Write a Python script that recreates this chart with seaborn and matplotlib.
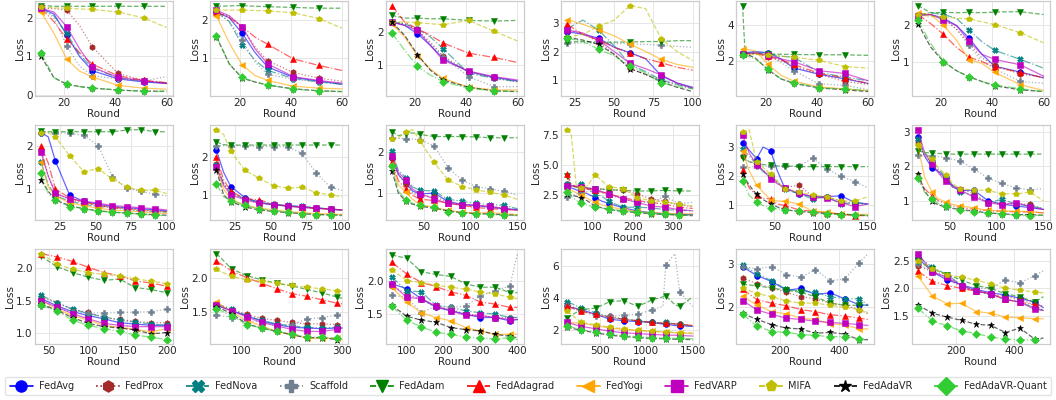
import matplotlib
matplotlib.use("Agg")
import matplotlib.pyplot as plt
import seaborn as sns
import pandas as pd
from matplotlib.lines import Line2D
from matplotlib.colors import to_rgba

METHODS = ["FedAvg", "FedProx", "FedNova", "Scaffold", "FedAdam", "FedAdagrad",
           "FedYogi", "FedVARP", "MIFA", "FedAdaVR", "FedAdaVR-Quant"]

# ---------------- data (series order = METHODS) ----------------
X_R1C1 = [11, 16, 21, 26, 31, 41, 51, 60]
L_R1C1 = [
    [2.25, 2.1, 1.55, 1.0, 0.63, 0.42, 0.34, 0.3],
    [2.25, 2.24, 2.2, 1.8, 1.25, 0.56, 0.38, 0.3],
    [2.25, 2.05, 1.6, 1.05, 0.7, 0.45, 0.36, 0.32],
    [2.28, 2.0, 1.27, 0.75, 0.5, 0.42, 0.36, 0.48],
    [2.32, 2.3, 2.3, 2.3, 2.3, 2.3, 2.3, 2.3],
    [2.25, 1.9, 1.45, 1.1, 0.8, 0.5, 0.38, 0.32],
    [2.15, 1.6, 0.93, 0.62, 0.47, 0.25, 0.18, 0.15],
    [2.25, 2.15, 1.77, 1.2, 0.72, 0.46, 0.37, 0.3],
    [2.28, 2.26, 2.25, 2.23, 2.22, 2.15, 2.0, 1.75],
    [1.0, 0.45, 0.28, 0.22, 0.18, 0.13, 0.1, 0.1],
    [1.1, 0.45, 0.28, 0.22, 0.18, 0.13, 0.1, 0.09],
]
X_R1C2 = [11, 16, 21, 26, 31, 41, 51, 60]
L_R1C2 = [
    [2.2, 2.05, 1.65, 1.15, 0.77, 0.5, 0.4, 0.32],
    [2.2, 2.1, 1.8, 1.3, 0.93, 0.63, 0.48, 0.4],
    [2.2, 1.95, 1.35, 0.95, 0.68, 0.47, 0.38, 0.32],
    [2.2, 1.95, 1.48, 0.9, 0.58, 0.45, 0.38, 0.35],
    [2.35, 2.36, 2.37, 2.35, 2.34, 2.32, 2.3, 2.3],
    [2.2, 2.05, 1.82, 1.55, 1.36, 0.98, 0.81, 0.68],
    [2.1, 1.4, 0.82, 0.55, 0.42, 0.27, 0.22, 0.2],
    [2.25, 2.1, 1.82, 1.25, 0.85, 0.52, 0.42, 0.35],
    [2.25, 2.25, 2.25, 2.24, 2.23, 2.18, 2.03, 1.78],
    [1.55, 0.85, 0.48, 0.38, 0.3, 0.2, 0.15, 0.13],
    [1.57, 0.85, 0.5, 0.38, 0.3, 0.2, 0.15, 0.13],
]
X_R1C3 = [11, 16, 21, 26, 31, 41, 51, 60]
L_R1C3 = [
    [2.3, 2.2, 1.95, 1.6, 1.2, 0.8, 0.63, 0.52],
    [2.3, 2.25, 2.05, 1.7, 1.27, 0.8, 0.6, 0.5],
    [2.3, 2.25, 2.1, 1.85, 1.5, 0.75, 0.6, 0.5],
    [2.3, 2.25, 2.05, 1.65, 1.25, 0.65, 0.35, 0.35],
    [2.5, 2.42, 2.42, 2.4, 2.4, 2.35, 2.33, 2.35],
    [2.8, 2.3, 2.1, 1.9, 1.67, 1.36, 1.23, 1.08],
    [2.25, 1.85, 1.28, 0.88, 0.6, 0.33, 0.25, 0.25],
    [2.3, 2.2, 2.05, 1.6, 1.15, 0.82, 0.65, 0.55],
    [2.3, 2.3, 2.28, 2.25, 2.22, 2.35, 2.02, 1.73],
    [2.3, 1.9, 1.32, 0.85, 0.55, 0.33, 0.22, 0.2],
    [1.97, 1.45, 0.96, 0.7, 0.5, 0.3, 0.22, 0.2],
]
X_R1C4 = [20, 30, 40, 50, 60, 70, 80, 90, 100]
L_R1C4 = [
    [2.7, 2.6, 2.47, 2.15, 1.96, 1.75, 1.15, 0.9, 0.75],
    [2.8, 2.6, 2.35, 1.9, 1.41, 1.2, 1.0, 0.85, 0.72],
    [2.8, 3.1, 2.75, 2.2, 1.55, 1.3, 1.0, 0.85, 0.7],
    [2.29, 2.3, 2.3, 2.28, 2.27, 2.25, 2.22, 2.18, 2.15],
    [2.33, 2.35, 2.33, 2.33, 2.33, 2.35, 2.35, 2.38, 2.38],
    [2.95, 2.6, 2.4, 2.15, 1.94, 1.75, 1.61, 1.45, 1.35],
    [3.12, 2.95, 2.76, 2.55, 2.26, 2.0, 1.73, 1.55, 1.45],
    [2.75, 2.65, 2.4, 2.0, 1.59, 1.4, 1.18, 0.9, 0.72],
    [2.5, 2.6, 2.88, 3.1, 3.61, 3.5, 2.44, 2.0, 1.68],
    [2.5, 2.4, 2.25, 1.9, 1.4, 1.2, 0.95, 0.75, 0.6],
    [2.47, 2.35, 2.08, 1.85, 1.5, 1.25, 0.9, 0.78, 0.7],
]
X_R1C5 = [11, 12, 16, 21, 26, 31, 41, 51, 60]
L_R1C5 = [
    [2.45, 2.45, 2.5, 2.45, 2.1, 1.6, 1.25, 1.0, 0.75],
    [2.4, 2.4, 2.4, 2.2, 2.0, 1.7, 1.25, 0.85, 0.7],
    [2.4, 2.4, 2.5, 2.4, 2.25, 2.2, 1.35, 1.1, 0.9],
    [2.4, 2.4, 2.45, 2.35, 1.9, 1.45, 0.72, 0.65, 0.4],
    [5.05, 2.45, 2.4, 2.38, 2.36, 2.35, 2.33, 2.33, 2.3],
    [2.35, 2.35, 2.4, 2.25, 2.05, 1.8, 1.3, 1.05, 0.75],
    [2.65, 2.65, 2.55, 1.8, 1.2, 0.88, 0.55, 0.45, 0.35],
    [2.4, 2.4, 2.45, 2.3, 2.1, 1.95, 1.45, 1.3, 0.9],
    [2.3, 2.3, 2.35, 2.3, 2.25, 2.2, 2.02, 1.68, 1.6],
    [2.4, 2.4, 2.15, 1.5, 1.0, 0.75, 0.5, 0.4, 0.3],
    [2.3, 2.3, 2.1, 1.55, 1.0, 0.8, 0.5, 0.45, 0.35],
]
X_R1C6 = [11, 16, 21, 26, 31, 36, 41, 51, 60]
L_R1C6 = [
    [2.3, 2.3, 2.2, 2.0, 1.65, 1.2, 0.87, 0.71, 0.55],
    [2.3, 2.3, 2.2, 1.9, 1.5, 1.1, 0.9, 0.65, 0.58],
    [2.3, 2.35, 2.3, 2.2, 1.87, 1.55, 1.31, 1.06, 0.82],
    [2.3, 2.3, 2.2, 1.9, 1.45, 1.0, 0.8, 0.45, 0.4],
    [2.55, 2.35, 2.36, 2.35, 2.36, 2.35, 2.37, 2.38, 2.3],
    [2.3, 2.05, 1.75, 1.4, 1.12, 1.0, 0.85, 0.7, 0.55],
    [2.35, 2.3, 2.0, 1.6, 1.05, 0.95, 0.7, 0.36, 0.2],
    [2.25, 2.3, 2.15, 2.0, 1.56, 1.2, 1.06, 0.91, 0.6],
    [2.3, 2.25, 2.23, 2.2, 2.18, 2.1, 2.02, 1.8, 1.52],
    [2.05, 1.4, 1.0, 0.75, 0.58, 0.45, 0.33, 0.22, 0.17],
    [2.15, 1.5, 1.0, 0.75, 0.57, 0.45, 0.35, 0.25, 0.17],
]
X_R2C1 = [12, 17, 22, 32, 42, 52, 62, 72, 82, 92, 100]
L_R2C1 = [
    [2.3, 2.2, 1.65, 0.86, 0.72, 0.65, 0.6, 0.57, 0.55, 0.52, 0.5],
    [1.9, 1.3, 0.92, 0.75, 0.68, 0.62, 0.58, 0.55, 0.52, 0.5, 0.48],
    [1.62, 1.1, 0.85, 0.72, 0.65, 0.6, 0.57, 0.53, 0.5, 0.48, 0.47],
    [2.3, 2.3, 2.3, 2.28, 2.24, 2.0, 1.29, 1.02, 0.95, 0.88, 0.85],
    [2.33, 2.32, 2.32, 2.32, 2.32, 2.32, 2.32, 2.36, 2.37, 2.32, 2.32],
    [2.0, 1.6, 1.0, 0.8, 0.7, 0.63, 0.58, 0.55, 0.52, 0.5, 0.48],
    [1.62, 1.05, 0.85, 0.68, 0.62, 0.56, 0.52, 0.5, 0.48, 0.45, 0.44],
    [1.85, 1.3, 0.9, 0.78, 0.72, 0.68, 0.62, 0.6, 0.57, 0.55, 0.52],
    [2.3, 2.3, 2.2, 1.77, 1.4, 1.47, 1.23, 1.05, 0.97, 0.97, 0.9],
    [1.2, 0.95, 0.75, 0.62, 0.55, 0.5, 0.47, 0.45, 0.43, 0.41, 0.4],
    [1.36, 0.9, 0.74, 0.6, 0.55, 0.5, 0.47, 0.45, 0.42, 0.4, 0.39],
]
X_R2C2 = [12, 17, 22, 32, 42, 52, 62, 72, 82, 92, 100]
L_R2C2 = [
    [2.18, 1.6, 1.22, 0.93, 0.8, 0.74, 0.7, 0.67, 0.65, 0.62, 0.6],
    [1.82, 1.3, 1.05, 0.88, 0.78, 0.74, 0.7, 0.67, 0.64, 0.62, 0.6],
    [1.8, 1.3, 1.05, 0.9, 0.8, 0.75, 0.72, 0.7, 0.66, 0.63, 0.6],
    [2.3, 2.3, 2.3, 2.3, 2.28, 2.28, 2.27, 2.1, 1.58, 1.2, 1.12],
    [2.4, 2.33, 2.32, 2.32, 2.32, 2.32, 2.32, 2.32, 2.32, 2.32, 2.32],
    [2.0, 1.4, 1.1, 0.9, 0.87, 0.75, 0.7, 0.67, 0.64, 0.62, 0.6],
    [1.7, 1.15, 0.9, 0.72, 0.65, 0.6, 0.56, 0.53, 0.5, 0.5, 0.48],
    [1.75, 1.25, 1.0, 0.87, 0.78, 0.74, 0.71, 0.68, 0.65, 0.62, 0.6],
    [2.73, 2.6, 2.15, 1.65, 1.44, 1.24, 1.18, 1.2, 1.06, 1.0, 0.95],
    [1.65, 1.0, 0.82, 0.68, 0.6, 0.56, 0.53, 0.5, 0.48, 0.47, 0.46],
    [1.29, 0.95, 0.85, 0.72, 0.63, 0.58, 0.54, 0.5, 0.48, 0.46, 0.45],
]
X_R2C3 = [16, 23, 31, 38, 46, 61, 76, 91, 106, 121, 136, 150]
L_R2C3 = [
    [1.85, 1.45, 1.25, 1.05, 0.98, 1.0, 0.8, 0.72, 0.7, 0.65, 0.62, 0.6],
    [1.85, 1.45, 1.22, 1.0, 0.93, 0.92, 0.78, 0.72, 0.7, 0.68, 0.62, 0.58],
    [2.03, 1.55, 1.38, 1.15, 1.07, 1.05, 0.85, 0.8, 0.75, 0.72, 0.7, 0.62],
    [2.34, 2.33, 2.33, 2.32, 2.3, 2.16, 1.62, 1.31, 1.16, 1.1, 1.05, 0.95],
    [2.5, 2.4, 2.45, 2.47, 2.43, 2.38, 2.38, 2.38, 2.37, 2.35, 2.35, 2.35],
    [1.75, 1.3, 1.1, 0.95, 0.85, 0.82, 0.75, 0.7, 0.65, 0.62, 0.6, 0.58],
    [1.7, 1.2, 1.02, 0.85, 0.72, 0.65, 0.58, 0.53, 0.52, 0.52, 0.5, 0.47],
    [1.9, 1.5, 1.33, 1.1, 0.99, 0.86, 0.75, 0.72, 0.7, 0.68, 0.62, 0.58],
    [2.33, 2.35, 2.48, 2.55, 2.28, 1.75, 1.32, 1.16, 1.08, 1.02, 0.95, 0.85],
    [1.55, 1.0, 0.8, 0.73, 0.68, 0.63, 0.57, 0.52, 0.5, 0.49, 0.47, 0.46],
    [1.66, 1.05, 0.84, 0.75, 0.7, 0.65, 0.55, 0.52, 0.5, 0.48, 0.46, 0.45],
]
X_R2C4 = [35, 45, 58, 70, 87, 105, 122, 140, 175, 210, 245, 280, 315, 350]
L_R2C4 = [
    [3.2, 3.1, 2.95, 2.8, 2.6, 2.3, 2.0, 1.8, 1.45, 1.2, 1.05, 0.95, 0.9, 0.9],
    [3.4, 3.25, 3.18, 3.15, 3.1, 3.05, 3.0, 2.95, 2.9, 2.6, 2.2, 2.0, 1.7, 1.55],
    [3.4, 3.25, 3.3, 3.45, 3.0, 2.6, 2.4, 2.0, 1.5, 1.5, 1.45, 1.3, 1.25, 1.2],
    [2.35, 2.45, 2.6, 2.7, 2.8, 2.9, 2.7, 2.5, 2.2, 1.9, 1.9, 2.4, 1.8, 1.9],
    [4.1, 3.3, 3.15, 3.1, 3.05, 3.0, 3.0, 2.95, 2.9, 2.85, 2.85, 2.9, 2.85, 2.85],
    [4.3, 3.4, 3.2, 3.1, 3.0, 2.9, 2.75, 2.6, 2.3, 2.05, 1.9, 1.75, 1.5, 1.4],
    [3.1, 2.9, 2.7, 2.5, 2.2, 1.9, 1.7, 1.55, 1.3, 1.15, 1.05, 1.0, 0.95, 0.95],
    [3.3, 3.27, 3.23, 3.2, 3.1, 3.0, 2.8, 2.6, 2.2, 1.9, 1.6, 1.5, 1.3, 1.2],
    [7.95, 7.6, 3.2, 3.1, 3.3, 4.2, 3.7, 3.2, 3.05, 2.3, 2.05, 1.95, 1.75, 1.6],
    [2.6, 2.5, 2.4, 2.3, 2.0, 1.6, 1.45, 1.3, 1.15, 1.05, 0.95, 0.9, 0.85, 0.8],
    [2.8, 2.4, 2.05, 1.86, 1.65, 1.53, 1.42, 1.34, 1.2, 1.1, 1.0, 0.95, 0.85, 0.8],
]
X_R2C5 = [16, 23, 31, 38, 46, 53, 61, 76, 91, 106, 121, 136, 150]
L_R2C5 = [
    [3.15, 2.9, 2.6, 3.0, 2.87, 2.2, 1.6, 1.4, 1.3, 1.3, 1.33, 1.1, 1.05],
    [2.7, 2.5, 2.4, 2.2, 2.0, 1.8, 1.6, 1.7, 1.3, 1.3, 1.15, 1.05, 1.05],
    [2.92, 2.7, 2.4, 2.15, 2.0, 1.8, 1.55, 1.4, 1.22, 1.3, 1.05, 1.1, 1.05],
    [2.32, 2.3, 2.35, 2.35, 2.35, 2.35, 2.35, 2.35, 2.62, 2.25, 2.0, 1.82, 1.6],
    [2.62, 2.5, 2.45, 2.4, 2.38, 2.35, 2.35, 2.33, 2.33, 2.33, 2.33, 2.33, 2.33],
    [2.2, 1.6, 1.35, 1.25, 1.22, 1.05, 1.0, 0.85, 0.8, 0.75, 0.7, 0.65, 0.65],
    [2.85, 2.2, 1.7, 1.45, 1.2, 1.15, 1.15, 1.05, 0.8, 0.78, 0.7, 0.68, 0.7],
    [3.42, 2.8, 2.4, 2.2, 1.91, 1.75, 1.6, 1.42, 1.3, 1.25, 1.1, 0.96, 1.05],
    [3.5, 3.6, 2.5, 2.3, 2.06, 1.85, 1.55, 1.45, 1.35, 1.3, 1.15, 1.15, 1.3],
    [2.06, 1.7, 1.38, 1.2, 1.05, 0.95, 0.85, 0.8, 0.75, 0.72, 0.7, 0.68, 0.65],
    [1.85, 1.35, 1.12, 1.0, 0.9, 0.88, 0.85, 0.8, 0.78, 0.72, 0.68, 0.68, 0.65],
]
X_R2C6 = [16, 23, 31, 38, 46, 53, 61, 76, 91, 106, 121, 136, 150]
L_R2C6 = [
    [2.85, 2.3, 1.95, 1.85, 1.65, 1.4, 1.3, 1.3, 1.0, 0.9, 0.85, 0.8, 0.75],
    [2.7, 2.3, 2.1, 1.85, 1.6, 1.4, 1.35, 1.2, 0.95, 0.92, 0.9, 0.9, 0.75],
    [2.8, 2.4, 2.15, 1.9, 1.7, 1.45, 1.25, 1.15, 0.95, 1.04, 0.9, 0.85, 0.78],
    [2.31, 2.3, 2.3, 2.28, 2.25, 2.2, 2.15, 1.92, 1.65, 1.5, 1.37, 1.32, 1.35],
    [2.45, 2.4, 2.38, 2.37, 2.36, 2.35, 2.35, 2.35, 2.35, 2.35, 2.35, 2.35, 2.35],
    [1.75, 1.35, 1.15, 1.0, 0.92, 0.85, 0.81, 0.75, 0.72, 0.7, 0.68, 0.68, 0.65],
    [2.6, 1.7, 1.25, 1.05, 0.97, 0.9, 0.85, 0.8, 0.72, 0.7, 0.7, 0.68, 0.65],
    [3.06, 2.4, 2.05, 1.8, 1.56, 1.45, 1.32, 1.1, 0.95, 0.88, 0.95, 0.82, 0.75],
    [2.6, 2.4, 2.2, 1.95, 1.75, 1.5, 1.35, 1.31, 1.3, 1.2, 1.2, 1.25, 1.0],
    [1.78, 1.3, 0.98, 0.88, 0.82, 0.78, 0.75, 0.7, 0.65, 0.62, 0.6, 0.6, 0.58],
    [1.66, 1.25, 1.05, 0.92, 0.86, 0.8, 0.72, 0.68, 0.65, 0.62, 0.58, 0.57, 0.58],
]
X_R3C1 = [40, 60, 80, 100, 120, 140, 160, 180, 200]
L_R3C1 = [
    [1.53, 1.42, 1.33, 1.27, 1.22, 1.16, 1.14, 1.12, 1.12],
    [1.55, 1.47, 1.36, 1.32, 1.24, 1.21, 1.18, 1.16, 1.16],
    [1.58, 1.47, 1.37, 1.3, 1.25, 1.2, 1.17, 1.14, 1.12],
    [1.41, 1.37, 1.33, 1.31, 1.31, 1.32, 1.32, 1.33, 1.37],
    [2.18, 2.02, 1.93, 1.86, 1.81, 1.83, 1.7, 1.67, 1.62],
    [2.22, 2.17, 2.1, 2.01, 1.93, 1.88, 1.8, 1.77, 1.72],
    [1.5, 1.37, 1.27, 1.2, 1.12, 1.09, 1.06, 1.02, 1.07],
    [1.5, 1.4, 1.3, 1.22, 1.15, 1.12, 1.1, 1.1, 1.1],
    [2.22, 2.06, 1.98, 1.93, 1.9, 1.88, 1.83, 1.8, 1.76],
    [1.45, 1.35, 1.24, 1.15, 1.1, 1.08, 1.05, 0.99, 1.01],
    [1.43, 1.34, 1.2, 1.12, 1.07, 1.03, 0.97, 0.94, 0.9],
]
X_R3C2 = [50, 80, 110, 140, 170, 200, 230, 260, 290, 300]
L_R3C2 = [
    [1.6, 1.52, 1.45, 1.37, 1.32, 1.28, 1.27, 1.26, 1.27, 1.27],
    [1.62, 1.53, 1.47, 1.41, 1.38, 1.35, 1.33, 1.33, 1.32, 1.32],
    [1.62, 1.55, 1.45, 1.38, 1.33, 1.3, 1.28, 1.27, 1.28, 1.28],
    [1.46, 1.42, 1.38, 1.35, 1.3, 1.32, 1.4, 1.42, 1.46, 1.48],
    [2.35, 2.13, 2.03, 1.97, 1.92, 1.88, 1.83, 1.78, 1.72, 1.7],
    [2.24, 2.1, 2.0, 1.92, 1.84, 1.77, 1.73, 1.68, 1.63, 1.62],
    [1.65, 1.5, 1.38, 1.3, 1.22, 1.18, 1.12, 1.12, 1.12, 1.1],
    [1.6, 1.52, 1.43, 1.35, 1.3, 1.25, 1.22, 1.22, 1.25, 1.27],
    [2.12, 2.02, 1.97, 1.95, 1.92, 1.89, 1.86, 1.84, 1.81, 1.8],
    [1.58, 1.48, 1.33, 1.27, 1.22, 1.17, 1.13, 1.13, 1.1, 1.1],
    [1.55, 1.45, 1.32, 1.27, 1.22, 1.18, 1.14, 1.14, 1.12, 1.1],
]
X_R3C3 = [60, 100, 140, 180, 220, 260, 300, 340, 380, 400]
L_R3C3 = [
    [1.95, 1.88, 1.73, 1.6, 1.55, 1.5, 1.45, 1.45, 1.4, 1.42],
    [1.92, 1.8, 1.72, 1.6, 1.57, 1.5, 1.48, 1.45, 1.45, 1.45],
    [2.05, 1.85, 1.83, 1.63, 1.6, 1.55, 1.52, 1.5, 1.45, 1.45],
    [1.78, 1.75, 1.52, 1.62, 1.6, 1.62, 1.77, 1.85, 1.92, 2.4],
    [2.38, 2.33, 2.13, 2.09, 2.06, 1.95, 1.9, 1.9, 1.82, 1.82],
    [2.27, 2.1, 1.97, 1.91, 1.83, 1.78, 1.68, 1.65, 1.6, 1.6],
    [1.9, 1.68, 1.52, 1.45, 1.4, 1.3, 1.25, 1.2, 1.2, 1.2],
    [1.95, 1.75, 1.73, 1.62, 1.55, 1.48, 1.48, 1.45, 1.42, 1.42],
    [2.16, 2.0, 1.97, 1.93, 1.9, 1.87, 1.83, 1.8, 1.75, 1.73],
    [1.63, 1.47, 1.41, 1.38, 1.3, 1.27, 1.25, 1.2, 1.17, 1.15],
    [1.62, 1.41, 1.31, 1.23, 1.2, 1.16, 1.15, 1.13, 1.15, 1.12],
]
X_R3C4 = [150, 300, 460, 610, 760, 910, 1060, 1180, 1210, 1310, 1360, 1500]
L_R3C4 = [
    [3.5, 3.3, 3.0, 2.7, 2.6, 2.55, 2.5, 2.4, 2.4, 2.3, 2.3, 2.25],
    [3.65, 3.2, 3.0, 2.9, 2.7, 2.6, 2.5, 2.45, 2.45, 2.4, 2.4, 2.3],
    [3.8, 3.4, 3.1, 2.8, 2.7, 2.6, 2.5, 2.45, 2.5, 2.4, 2.4, 2.25],
    [3.5, 3.2, 2.9, 2.9, 2.95, 3.0, 3.3, 3.5, 6.1, 6.8, 4.4, 3.5],
    [2.8, 3.3, 3.4, 3.8, 3.86, 3.5, 3.9, 4.1, 4.16, 3.6, 3.5, 4.1],
    [3.5, 3.2, 3.0, 2.8, 2.7, 2.6, 2.5, 2.45, 2.45, 2.4, 2.4, 2.3],
    [2.5, 2.45, 2.3, 2.15, 2.05, 2.0, 1.95, 1.9, 1.9, 1.85, 1.85, 1.8],
    [2.5, 2.25, 2.1, 1.95, 1.85, 1.8, 1.75, 1.72, 1.7, 1.7, 1.68, 1.65],
    [3.2, 2.5, 2.35, 2.2, 2.1, 2.0, 1.95, 1.9, 1.9, 1.88, 1.85, 1.85],
    [2.2, 2.0, 1.85, 1.7, 1.62, 1.55, 1.5, 1.48, 1.47, 1.45, 1.45, 1.42],
    [2.28, 2.05, 1.9, 1.75, 1.68, 1.6, 1.55, 1.52, 1.52, 1.5, 1.5, 1.48],
]
X_R3C5 = [70, 120, 170, 220, 270, 320, 370, 420, 470, 500]
L_R3C5 = [
    [2.94, 2.74, 2.6, 2.4, 2.44, 2.3, 2.34, 2.2, 2.06, 2.05],
    [2.68, 2.55, 2.45, 2.35, 2.25, 2.2, 2.1, 2.05, 1.95, 1.85],
    [2.98, 2.78, 2.62, 2.42, 2.38, 2.35, 2.25, 2.2, 2.2, 2.05],
    [2.95, 2.9, 2.95, 2.76, 2.7, 2.88, 2.62, 2.66, 3.04, 3.25],
    [2.54, 2.5, 2.45, 2.4, 2.35, 2.25, 2.1, 2.05, 2.05, 2.05],
    [2.42, 2.18, 2.1, 2.04, 1.95, 1.9, 1.83, 1.8, 1.75, 1.72],
    [2.26, 2.05, 1.9, 1.85, 1.75, 1.72, 1.62, 1.6, 1.5, 1.5],
    [2.16, 1.94, 1.84, 1.75, 1.72, 1.68, 1.65, 1.63, 1.6, 1.58],
    [2.45, 2.32, 2.25, 2.15, 2.1, 2.1, 2.05, 2.0, 1.95, 1.88],
    [1.86, 1.72, 1.6, 1.52, 1.5, 1.4, 1.42, 1.38, 1.25, 1.25],
    [1.85, 1.56, 1.44, 1.42, 1.37, 1.35, 1.32, 1.32, 1.27, 1.26],
]
X_R3C6 = [70, 120, 170, 220, 270, 320, 370, 420, 470, 500]
L_R3C6 = [
    [2.55, 2.3, 2.15, 2.07, 1.98, 1.92, 1.88, 1.82, 1.75, 1.65],
    [2.41, 2.3, 2.2, 2.0, 1.95, 1.9, 1.85, 1.8, 1.7, 1.6],
    [2.58, 2.38, 2.25, 2.05, 1.95, 1.88, 1.8, 1.75, 1.65, 1.6],
    [2.45, 2.3, 2.25, 2.05, 2.0, 2.0, 2.15, 2.1, 2.23, 2.32],
    [2.5, 2.35, 2.25, 2.15, 2.05, 2.0, 1.9, 1.85, 1.75, 1.85],
    [2.31, 2.13, 2.05, 2.0, 1.95, 1.9, 1.8, 1.75, 1.7, 1.68],
    [2.22, 1.86, 1.72, 1.73, 1.58, 1.55, 1.48, 1.47, 1.45, 1.45],
    [2.63, 2.3, 2.2, 2.05, 1.95, 1.9, 1.8, 1.75, 1.62, 1.6],
    [2.5, 2.36, 2.25, 2.2, 2.15, 2.08, 2.0, 1.97, 1.93, 1.92],
    [1.7, 1.55, 1.48, 1.42, 1.35, 1.33, 1.2, 1.28, 1.08, 1.1],
    [1.64, 1.41, 1.32, 1.23, 1.18, 1.12, 1.08, 1.07, 1.07, 1.08],
]

# ---------------- styling ----------------
COLORS = ["#0000ff", "#a52a2a", "#008080", "#708090", "#008000", "#ff0000",
          "#ffa500", "#bf00bf", "#bfbf00", "#000000", "#32cd32"]
MARKERS = ["o", "h", "X", "P", "v", "^", "<", "s", "p", "*", "D"]
LSTYLES = ["-", ":", "-.", ":", "--", "-.", "-", "-", "--", "--", "-."]

PANELS = [
    (X_R1C1, L_R1C1, [0, 2, 4, 5, 6], [20, 40, 60], [0, 1, 2]),
    (X_R1C2, L_R1C2, [0, 2, 4, 5, 6], [20, 40, 60], [1, 2]),
    (X_R1C3, L_R1C3, [0, 2, 4, 5, 6], [20, 40, 60], [1, 2]),
    (X_R1C4, L_R1C4, [0, 2, 4, 6], [25, 50, 75, 100], [1, 2, 3]),
    (X_R1C5, L_R1C5, [0, 3, 5, 6, 7], [20, 40, 60], [2, 4]),
    (X_R1C6, L_R1C6, [0, 2, 4, 6, 7], [20, 40, 60], [1, 2]),
    (X_R2C1, L_R2C1, [0, 2, 3, 4, 5, 6, 7, 8, 9], [25, 50, 75, 100], [1, 2]),
    (X_R2C2, L_R2C2, [0, 2, 3, 4, 5, 6, 7, 8, 9], [25, 50, 75, 100], [1, 2]),
    (X_R2C3, L_R2C3, [0, 2, 4, 5, 6, 7, 8, 9, 10], [50, 100, 150], [1, 2]),
    (X_R2C4, L_R2C4, [0, 3, 5, 7, 8, 9, 10, 11, 12], [100, 200, 300], [2.5, 5.0, 7.5]),
    (X_R2C5, L_R2C5, [0, 2, 4, 6, 7, 8, 9, 10, 11], [50, 100, 150], [1, 2, 3]),
    (X_R2C6, L_R2C6, [0, 2, 4, 6, 7, 8, 9, 10, 11], [50, 100, 150], [1, 2, 3]),
    (X_R3C1, L_R3C1, list(range(9)), [50, 100, 150, 200], [1.0, 1.5, 2.0]),
    (X_R3C2, L_R3C2, list(range(9)), [100, 200, 300], [1.5, 2.0]),
    (X_R3C3, L_R3C3, list(range(9)), [100, 200, 300, 400], [1.5, 2.0]),
    (X_R3C4, L_R3C4, [0, 1, 2, 3, 4, 5, 6, 8, 10], [500, 1000, 1500], [2, 4, 6]),
    (X_R3C5, L_R3C5, list(range(9)), [200, 400], [2, 3]),
    (X_R3C6, L_R3C6, list(range(9)), [200, 400], [1.5, 2.0, 2.5]),
]

sns.set_theme(style="whitegrid", color_codes=False, rc={
    "axes.edgecolor": "#cccccc", "grid.color": "#e6e6e6", "grid.linewidth": 0.7,
    "axes.linewidth": 0.9, "xtick.labelsize": 7.5, "ytick.labelsize": 7.5,
    "axes.labelsize": 7.5, "xtick.major.pad": 1.5, "ytick.major.pad": 1.5,
    "axes.labelpad": 1.0,
})
plt.rcParams["font.family"] = ["DejaVu Sans"]

fig, axes = plt.subplots(3, 6, figsize=(10.56, 4.0), dpi=100)
fig.subplots_adjust(left=0.033, right=0.994, top=0.997, bottom=0.14,
                    wspace=0.27, hspace=0.31)

for ax, (xs, series, mk, xt, yt) in zip(axes.flat, PANELS):
    for i, ys in enumerate(series):
        df = pd.DataFrame({"Round": xs, "Loss": ys})
        c = COLORS[i]
        sns.lineplot(data=df, x="Round", y="Loss", ax=ax, color=to_rgba(c, 0.6),
                     linestyle=LSTYLES[i], linewidth=0.9, marker=MARKERS[i],
                     markevery=mk, markersize=4.2 if MARKERS[i] != "*" else 5,
                     markerfacecolor=c, markeredgecolor=c, markeredgewidth=0.4,
                     zorder=2 + i * 0.01)
    ax.set_xticks(xt)
    ax.set_yticks(yt)
    ax.set_xlabel("Round")
    ax.set_ylabel("Loss")
    ax.tick_params(length=0)

handles = [Line2D([0], [0], color=COLORS[i], linestyle=LSTYLES[i], linewidth=1.2,
                  marker=MARKERS[i], markersize=8 if MARKERS[i] not in ("*", "D") else 9,
                  markerfacecolor=COLORS[i], markeredgecolor=COLORS[i])
           for i in range(len(METHODS))]
fig.legend(handles, METHODS, loc="center", bbox_to_anchor=(0.5, 0.035), ncol=11,
           fontsize=7, frameon=True, edgecolor="#dddddd", handlelength=2.4,
           handletextpad=0.6, columnspacing=2.3, borderpad=0.45)

fig.savefig("out.png", dpi=100)
